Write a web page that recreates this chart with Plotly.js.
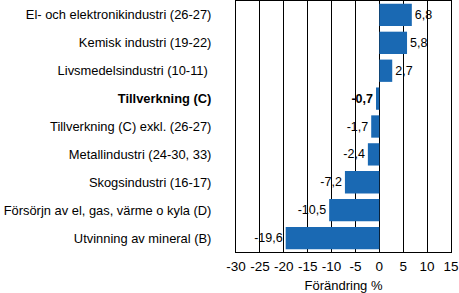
<!DOCTYPE html>
<html>
<head>
<meta charset="utf-8">
<script src="https://cdn.plot.ly/plotly-3.0.1.min.js"></script>
<style>html,body{margin:0;padding:0;background:#fff;}#chart{width:459px;height:293px;}</style>
</head>
<body>
<div id="chart"></div>
<script>
var categories = [
  "El- och elektronikindustri (26-27)",
  "Kemisk industri (19-22)",
  "Livsmedelsindustri (10-11)\u00a0",
  "<b>Tillverkning (C)</b>",
  "Tillverkning (C) exkl. (26-27)",
  "Metallindustri (24-30, 33)",
  "Skogsindustri (16-17)",
  "Försörjn av el, gas, värme o kyla (D)",
  "Utvinning av mineral (B)"
];
var values = [6.8, 5.8, 2.7, -0.7, -1.7, -2.4, -7.2, -10.5, -19.6];
var valueLabels = ["6,8", "5,8", "2,7", "<b>-0,7</b>", "-1,7", "-2,4", "-7,2", "-10,5", "-19,6"];
var tickValues = [-30, -25, -20, -15, -10, -5, 0, 5, 10, 15];
var tickLabels = ["-30", "-25", "-20", "-15", "-10", "-5", "0", "5", "10", "15"];

var trace = {
  type: "bar",
  orientation: "h",
  y: categories,
  x: values,
  text: valueLabels,
  textposition: "outside",
  textfont: {family: "Liberation Sans, Arial, sans-serif", size: 12.5, color: "#000"},
  cliponaxis: false,
  marker: {color: "#1a69b3"},
  hoverinfo: "none"
};

var layout = {
  width: 459, height: 293,
  margin: {l: 236, r: 8, t: 1, b: 41},
  paper_bgcolor: "#fff", plot_bgcolor: "#fff",
  font: {family: "Liberation Sans, Arial, sans-serif", size: 12.9, color: "#000"},
  bargap: 0.2,
  showlegend: false,
  xaxis: {
    range: [-30, 15],
    tickvals: tickValues, ticktext: tickLabels,
    showgrid: true, gridcolor: "#000", gridwidth: 1,
    zeroline: false,
    showline: true, linecolor: "#000", linewidth: 1, mirror: true,
    ticks: "", tickfont: {size: 13.5}, ticklabelstandoff: 2,
    title: {text: "Förändring %", font: {size: 13}, standoff: 9}
  },
  yaxis: {
    autorange: "reversed",
    showgrid: false, zeroline: false,
    showline: true, linecolor: "#000", linewidth: 1, mirror: true,
    ticks: "", ticklabelstandoff: 21,
    tickfont: {size: 12.9}
  }
};

Plotly.newPlot("chart", [trace], layout, {displayModeBar: false, staticPlot: true});
</script>
</body>
</html>
